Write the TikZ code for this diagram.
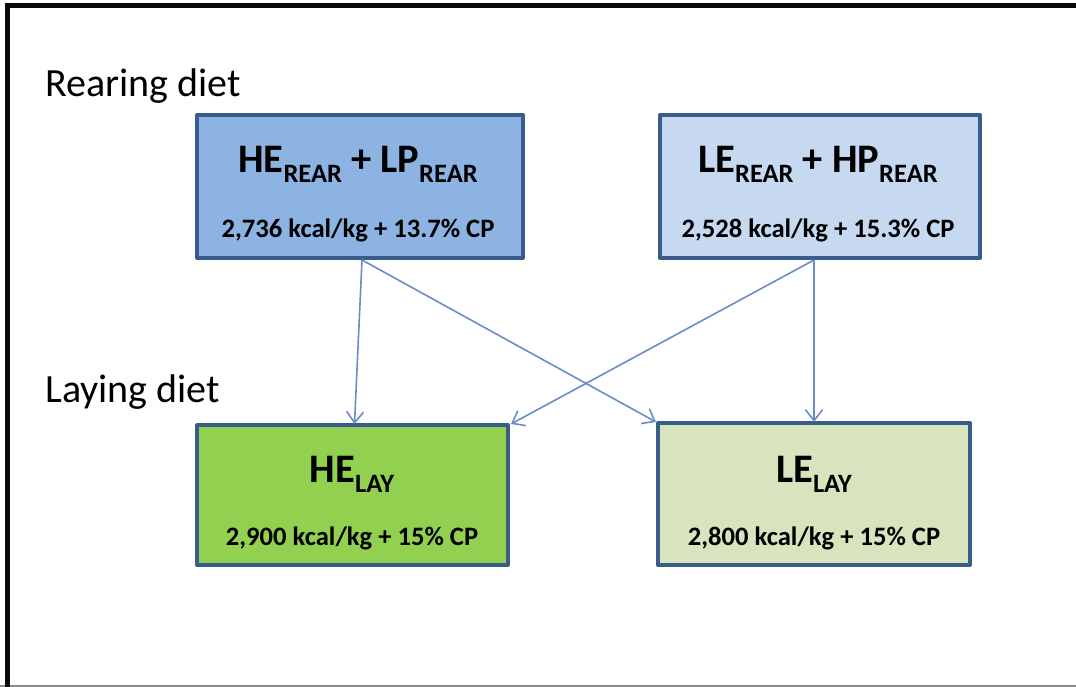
\documentclass[tikz,border=0pt]{standalone}
\usepackage{fontspec}
\setmainfont{Carlito}
\usetikzlibrary{arrows.meta}
\definecolor{frameblk}{HTML}{0A0A0A}
\definecolor{edgeblue}{HTML}{385D8A}
\definecolor{linkblue}{HTML}{6A8DC8}
\definecolor{fillA}{HTML}{8DB3E2}
\definecolor{fillB}{HTML}{C6D9F1}
\definecolor{fillC}{HTML}{92D050}
\definecolor{fillD}{HTML}{D7E4BD}
\newcommand\lowsub[1]{\raisebox{-10pt}{\fontsize{26.5}{27}\selectfont #1}}
\tikzset{
  dietbox/.style={draw=edgeblue, line width=4pt, line join=round, rectangle, inner sep=0pt},
  headtxt/.style={anchor=base, font=\fontsize{40.5}{42}\selectfont\bfseries, inner sep=0pt},
  valtxt/.style={anchor=base, font=\fontsize{26.6}{28}\selectfont\bfseries, inner sep=0pt},
  phasetxt/.style={anchor=base west, font=\fontsize{40}{42}\selectfont, inner sep=0pt},
  link/.style={draw=linkblue, line width=1.6pt, -{Straight Barb[length=11pt,width=17pt,line width=1.6pt]}}
}
\begin{document}
\begin{tikzpicture}[x=1pt,y=-1pt]
\useasboundingbox (0,0) rectangle (1076,687);
\fill[white] (0,0) rectangle (1076,687);
% outer frame: heavy rule on the top and left, light rule along the bottom
\draw[black!45, line width=1.5pt] (0,686) -- (1076,686);
\draw[frameblk, line width=5pt] (7,690) -- (7,5.5) -- (1076,5.5);

% phase labels
\node[phasetxt] (rearlbl) at (45,97) {Rearing diet};
\node[phasetxt] (laylbl) at (45,402) {Laying diet};

% rearing diets
\node[dietbox, fill=fillA, minimum width=326pt, minimum height=143pt] (rA) at (360,186.5) {};
\node[dietbox, fill=fillB, minimum width=320pt, minimum height=143pt] (rB) at (820,186.5) {};
% laying diets
\node[dietbox, fill=fillC, minimum width=311pt, minimum height=140pt] (lA) at (352.5,495) {};
\node[dietbox, fill=fillD, minimum width=312pt, minimum height=142pt] (lB) at (814,494) {};

% box texts
\node[headtxt] (rAh) at (358,173) {HE\lowsub{REAR} + LP\lowsub{REAR}};
\node[valtxt] (rAv) at (358,237) {2,736 kcal/kg + 13.7\% CP};
\node[headtxt] (rBh) at (818,173) {LE\lowsub{REAR} + HP\lowsub{REAR}};
\node[valtxt] (rBv) at (818,237) {2,528 kcal/kg + 15.3\% CP};
\node[headtxt] (lAh) at (352,482) {HE\lowsub{LAY}};
\node[valtxt] (lAv) at (352,545) {2,900 kcal/kg + 15\% CP};
\node[headtxt] (lBh) at (814,482) {LE\lowsub{LAY}};
\node[valtxt] (lBv) at (814,545) {2,800 kcal/kg + 15\% CP};

% connectors
\coordinate (aout) at ([xshift=2pt]rA.south);
\coordinate (bout) at ([xshift=-6pt]rB.south);
\draw[link] (aout) -- ([xshift=2pt,yshift=-1pt]lA.north);
\draw[link] (aout) -- ([yshift=-1pt]lB.north west);
\draw[link] (bout) -- ([xshift=1pt,yshift=-1pt]lA.north east);
\draw[link] (bout) -- ([yshift=-1pt]lB.north);
\end{tikzpicture}
\end{document}
